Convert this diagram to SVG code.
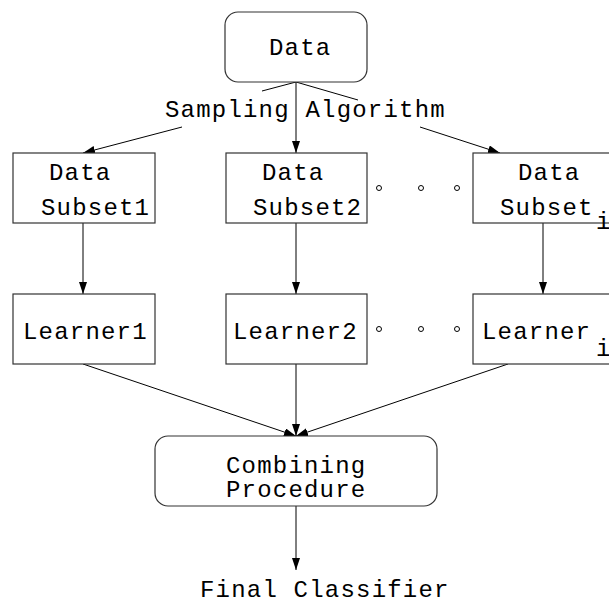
<svg xmlns="http://www.w3.org/2000/svg" width="609" height="603" viewBox="0 0 609 603">
  <style>
    .box { fill: #fff; stroke: #333; stroke-width: 1.2; }
    .lbl { font-family: "Liberation Mono", "Courier New", monospace; font-size: 24px; letter-spacing: 1.2px; fill: #000; }
    .edge { fill: none; stroke: #000; stroke-width: 1; }
    .dot { fill: #fff; stroke: #000; stroke-width: 1; }
  </style>
  <defs>
    <marker id="arrow" markerUnits="userSpaceOnUse" markerWidth="13" markerHeight="9" refX="12" refY="4" orient="auto">
      <path d="M0,0 L12,4 L0,8 z" fill="#000"/>
    </marker>
  </defs>

  <rect width="609" height="603" fill="#fff"/>

  <g id="connectors">
    <!-- Data to the subsets, split by the sampling label -->
    <line class="edge" x1="296" y1="82" x2="262" y2="91"/>
    <line class="edge" x1="296" y1="82" x2="358" y2="100"/>
    <line class="edge" x1="182" y1="127" x2="83" y2="153" marker-end="url(#arrow)"/>
    <line class="edge" x1="296" y1="82" x2="296" y2="153" marker-end="url(#arrow)"/>
    <line class="edge" x1="420" y1="127" x2="500" y2="153" marker-end="url(#arrow)"/>
    <!-- subsets to learners -->
    <line class="edge" x1="83" y1="223" x2="83" y2="294" marker-end="url(#arrow)"/>
    <line class="edge" x1="296" y1="223" x2="296" y2="294" marker-end="url(#arrow)"/>
    <line class="edge" x1="543" y1="223" x2="543" y2="294" marker-end="url(#arrow)"/>
    <!-- learners to combining procedure -->
    <line class="edge" x1="83" y1="364" x2="296" y2="436" marker-end="url(#arrow)"/>
    <line class="edge" x1="296" y1="364" x2="296" y2="436" marker-end="url(#arrow)"/>
    <line class="edge" x1="508" y1="364" x2="296" y2="436" marker-end="url(#arrow)"/>
    <!-- combining procedure to final classifier -->
    <line class="edge" x1="296" y1="506" x2="296" y2="570" marker-end="url(#arrow)"/>
  </g>

  <g id="data">
    <rect class="box" x="225" y="12" width="142" height="70" rx="13" ry="13"/>
    <text class="lbl" x="269" y="55">Data</text>
  </g>

  <g id="sampling-label">
    <text class="lbl" x="165" y="117">Sampling Algorithm</text>
  </g>

  <g id="subset1">
    <rect class="box" x="13" y="153" width="142" height="70"/>
    <text class="lbl" x="49" y="180">Data</text>
    <text class="lbl" x="41" y="215">Subset1</text>
  </g>

  <g id="subset2">
    <rect class="box" x="226" y="153" width="141" height="70"/>
    <text class="lbl" x="262" y="180">Data</text>
    <text class="lbl" x="253" y="215">Subset2</text>
  </g>

  <g id="subset-i">
    <rect class="box" x="473" y="153" width="142" height="70"/>
    <text class="lbl" x="518" y="180">Data</text>
    <text class="lbl" x="500" y="215">Subset</text>
    <text class="lbl" x="596" y="229">i</text>
  </g>

  <g id="subset-ellipsis">
    <circle class="dot" cx="379" cy="188" r="2.5"/>
    <circle class="dot" cx="421" cy="188" r="2.5"/>
    <circle class="dot" cx="457" cy="188" r="2.5"/>
  </g>

  <g id="learner1">
    <rect class="box" x="13" y="294" width="142" height="70"/>
    <text class="lbl" x="23" y="339">Learner1</text>
  </g>

  <g id="learner2">
    <rect class="box" x="226" y="294" width="141" height="70"/>
    <text class="lbl" x="233" y="339">Learner2</text>
  </g>

  <g id="learner-i">
    <rect class="box" x="473" y="294" width="142" height="70"/>
    <text class="lbl" x="482" y="339">Learner</text>
    <text class="lbl" x="596" y="356">i</text>
  </g>

  <g id="learner-ellipsis">
    <circle class="dot" cx="379" cy="329" r="2.5"/>
    <circle class="dot" cx="421" cy="329" r="2.5"/>
    <circle class="dot" cx="457" cy="329" r="2.5"/>
  </g>

  <g id="combining">
    <rect class="box" x="155" y="436" width="282" height="70" rx="13" ry="13"/>
    <text class="lbl" x="226" y="473">Combining</text>
    <text class="lbl" x="226" y="497">Procedure</text>
  </g>

  <g id="final">
    <text class="lbl" x="200" y="597">Final Classifier</text>
  </g>
</svg>
